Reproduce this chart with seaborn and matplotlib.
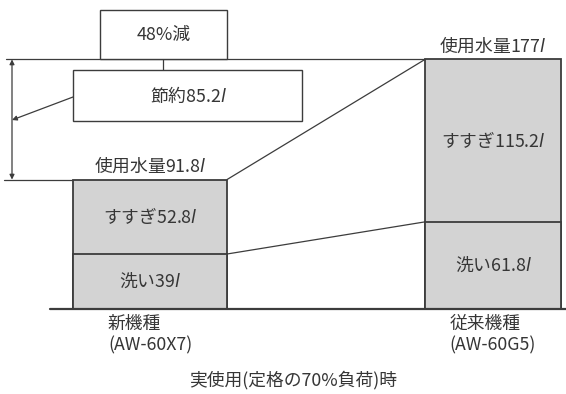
import matplotlib
matplotlib.use("Agg")
import matplotlib.pyplot as plt
import seaborn as sns
from matplotlib.patches import Rectangle

# -------------------------------
# Data (litres)
# -------------------------------
models = ["新機種\n(AW-60X7)", "従来機種\n(AW-60G5)"]
wash = [39, 61.8]
rinse = [52.8, 115.2]
total = [91.8, 177]
saving = 85.2
saving_pct = 48
caption = "実使用(定格の70%負荷)時"

L = r"$\mathit{l}$"
FILL = "#d3d3d3"
EDGE = "#3c3c3c"
TXT = "#363636"
FS = 12.8

sns.set_theme(style="white")
plt.rcParams["font.family"] = ["Noto Sans CJK JP", "DejaVu Sans"]

fig = plt.figure(figsize=(5.66, 3.94), dpi=100)
ax = fig.add_axes([0, 0, 1, 1])

# layout helpers: image pixels -> data coords
X0, XS = 150, 343      # centre of first bar, px between bars
Y0, YS = 309, 1.41     # baseline px from top, px per litre
def fx(px):
    return (px - X0) / XS
def fy(py):
    return (Y0 - py) / YS

# -------------------------------
# Stacked bars
# -------------------------------
sns.barplot(x=models, y=total, color=FILL, saturation=1, edgecolor=EDGE,
            linewidth=1.3, ax=ax, zorder=2)
sns.barplot(x=models, y=wash, color=FILL, saturation=1, edgecolor=EDGE,
            linewidth=1.3, ax=ax, zorder=2)

widths = [154 / XS, 136 / XS]
for i, p in enumerate(ax.patches):
    w = widths[i % 2]
    p.set_width(w)
    p.set_x(i % 2 - w / 2)

ax.set_xlim(fx(0), fx(566))
ax.set_ylim(fy(394), fy(0))
ax.axis("off")

left_r = 0 + widths[0] / 2
right_l = 1 - widths[1] / 2

# baseline
ax.plot([fx(50), fx(566)], [0, 0], color=EDGE, lw=1.6, zorder=3)

# connecting lines between bars
ax.plot([left_r, right_l], [total[0], total[1]], color=EDGE, lw=0.9, zorder=1)
ax.plot([left_r, right_l], [wash[0], wash[1]], color=EDGE, lw=0.9, zorder=1)

# extension lines
ax.plot([fx(6), right_l], [total[1], total[1]], color=EDGE, lw=0.9, zorder=1)
ax.plot([fx(4), 0 - widths[0] / 2], [total[0], total[0]], color=EDGE, lw=0.9, zorder=1)

# dimension arrow
xd = fx(12)
ax.annotate("", xy=(xd, total[1]), xytext=(xd, total[0]),
            arrowprops=dict(arrowstyle="<|-|>", color=EDGE, lw=0.9,
                            mutation_scale=7, shrinkA=0, shrinkB=0))

# bar labels
for i in range(2):
    ax.text(i, total[i] + 2.5, f"使用水量{total[i]:g}{L}", ha="center", va="bottom",
            fontsize=FS, color=TXT)
    ax.text(i, wash[i] + rinse[i] / 2, f"すすぎ{rinse[i]:g}{L}", ha="center",
            va="center", fontsize=FS, color=TXT)
    ax.text(i, wash[i] / 2, f"洗い{wash[i]:g}{L}", ha="center", va="center",
            fontsize=FS, color=TXT)
    ax.text(i, fy(315), models[i], ha="center", va="top", multialignment="left",
            fontsize=FS, color=TXT, linespacing=1.25)

# saving boxes
ax.add_patch(Rectangle((fx(100), total[1]), (227 - 100) / XS, 49 / YS,
                       facecolor="white", edgecolor=EDGE, lw=1.0, zorder=4))
ax.text(fx(163.5), total[1] + 24.5 / YS, f"{saving_pct}%減", ha="center",
        va="center", fontsize=FS, color=TXT, zorder=5)

ax.plot([fx(163), fx(163)], [total[1], fy(70)], color=EDGE, lw=0.9, zorder=3)
ax.add_patch(Rectangle((fx(73), fy(121)), (302 - 73) / XS, 51 / YS,
                       facecolor="white", edgecolor=EDGE, lw=1.0, zorder=4))
ax.text(fx(188), fy(95.5), f"節約{saving:g}{L}", ha="center", va="center",
        fontsize=FS, color=TXT, zorder=5)
ax.annotate("", xy=(xd, fy(120)), xytext=(fx(73), fy(97)),
            arrowprops=dict(arrowstyle="-|>", color=EDGE, lw=0.9,
                            mutation_scale=7, shrinkA=0, shrinkB=0))

# caption
ax.text(fx(293), fy(380), caption, ha="center", va="center", fontsize=FS, color=TXT)

fig.savefig("out.png", dpi=100)
plt.close(fig)
